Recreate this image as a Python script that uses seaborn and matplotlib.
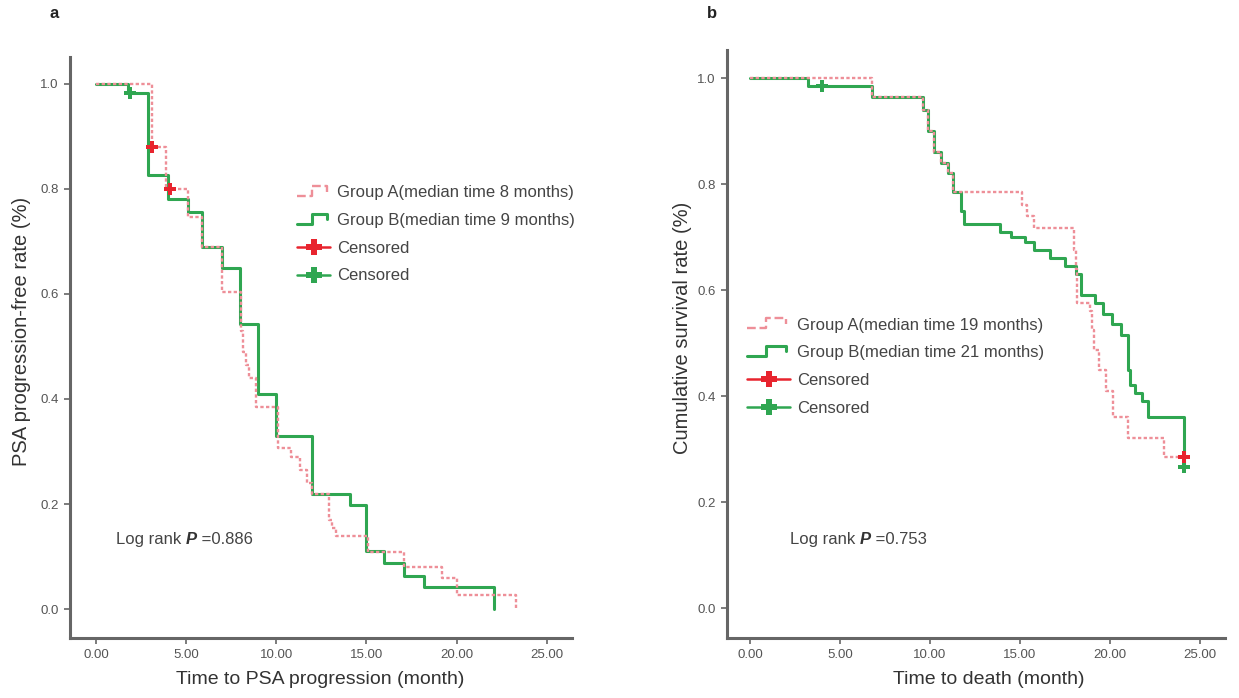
import numpy as np
import pandas as pd
import matplotlib
matplotlib.use("Agg")
import matplotlib.pyplot as plt
from matplotlib.lines import Line2D
from matplotlib.legend_handler import HandlerBase
import seaborn as sns

# ---- Kaplan-Meier step data: panel a (PSA progression) ----
a_time_A = [0.0, 3.1, 3.9, 5.1, 5.9, 7.0, 8.05, 8.15, 8.3, 8.5, 8.9, 10.1, 10.8, 11.3, 11.7, 12.0,
            12.9, 13.1, 13.3, 15.1, 17.1, 19.2, 20.0, 23.3]
a_surv_A = [1.0, 0.88, 0.80, 0.747, 0.69, 0.604, 0.53, 0.49, 0.465, 0.44, 0.385, 0.307, 0.29, 0.265, 0.24, 0.22,
            0.17, 0.155, 0.14, 0.108, 0.08, 0.059, 0.027, 0.0]
a_time_B = [0.0, 1.8, 2.9, 4.0, 5.1, 5.9, 7.0, 8.0, 9.0, 10.0, 12.0, 14.1, 15.0, 16.0, 17.1, 18.2, 22.1]
a_surv_B = [1.0, 0.983, 0.827, 0.78, 0.756, 0.69, 0.65, 0.543, 0.41, 0.33, 0.22, 0.198, 0.11, 0.088, 0.063, 0.042, 0.0]
a_cens_A_t = [3.1, 4.1]
a_cens_A_s = [0.88, 0.80]
a_cens_B_t = [1.9]
a_cens_B_s = [0.983]

# ---- Kaplan-Meier step data: panel b (overall survival) ----
b_time_A = [0.0, 6.8, 9.6, 9.9, 10.2, 10.6, 11.0, 11.3, 15.1, 15.4, 15.8, 18.0, 18.1, 18.2, 18.9, 19.0,
            19.1, 19.4, 19.8, 20.2, 21.0, 23.0, 24.1]
b_surv_A = [1.0, 0.964, 0.94, 0.90, 0.86, 0.84, 0.82, 0.785, 0.76, 0.74, 0.717, 0.675, 0.64, 0.575, 0.56, 0.525,
            0.487, 0.45, 0.41, 0.36, 0.32, 0.285, 0.285]
b_time_B = [0.0, 3.2, 6.8, 9.6, 9.9, 10.2, 10.6, 11.0, 11.3, 11.7, 11.9, 13.9, 14.5, 15.3, 15.8, 16.7, 17.5,
            18.1, 18.4, 19.2, 19.6, 20.1, 20.6, 21.0, 21.1, 21.4, 21.8, 22.1, 24.1]
b_surv_B = [1.0, 0.985, 0.964, 0.94, 0.90, 0.86, 0.84, 0.82, 0.785, 0.75, 0.725, 0.71, 0.70, 0.69, 0.675, 0.66,
            0.645, 0.63, 0.59, 0.575, 0.555, 0.535, 0.515, 0.45, 0.42, 0.405, 0.39, 0.36, 0.266]
b_cens_A_t = [24.1]
b_cens_A_s = [0.285]
b_cens_B_t = [4.0, 24.1]
b_cens_B_s = [0.985, 0.266]

y_ticks = [0.0, 0.2, 0.4, 0.6, 0.8, 1.0]
x_ticks = [0, 5, 10, 15, 20, 25]

labels_a = ["Group A(median time 8 months)", "Group B(median time 9 months)", "Censored", "Censored"]
labels_b = ["Group A(median time 19 months)", "Group B(median time 21 months)", "Censored", "Censored"]
p_text_a = "=0.886"
p_text_b = "=0.753"

RED_LINE = "#ee8f98"
RED_MARK = "#e8242e"
GREEN = "#2fa651"
SPINE = "#666666"
TEXT = "#444444"
RED_DASH = (0, (1.4, 1.0))

sns.set_theme(style="ticks")
plt.rcParams["font.family"] = ["Liberation Sans", "DejaVu Sans"]

fig = plt.figure(figsize=(12.39, 6.98), dpi=100)
W, H = 1239, 698


def px_axes(left, top, right, bottom):
    return fig.add_axes([left / W, 1 - bottom / H, (right - left) / W, (bottom - top) / H])


class StepHandler(HandlerBase):
    def create_artists(self, legend, orig_handle, xdescent, ydescent, width, height, fontsize, trans):
        x0 = -xdescent
        xs = [x0, x0 + 0.45 * width, x0 + 0.45 * width, x0 + 0.9 * width, x0 + 0.9 * width]
        ys = [0.1 * height, 0.1 * height, 0.95 * height, 0.95 * height, 0.5 * height]
        ln = Line2D(xs, ys, color=orig_handle.get_color(), linewidth=orig_handle.get_linewidth(),
                    linestyle=orig_handle.get_linestyle())
        ln.set_transform(trans)
        return [ln]


def draw_panel(ax, tA, sA, tB, sB, cAt, cAs, cBt, cBs, xlim, ylim, xlabel, ylabel,
               labels, leg_anchor, handle_len, ptxt, ppos, xlab_pos, ylab_pos):
    dfA = pd.DataFrame({"t": tA, "s": sA})
    dfB = pd.DataFrame({"t": tB, "s": sB})
    sns.lineplot(data=dfB, x="t", y="s", ax=ax, drawstyle="steps-post", estimator=None, sort=False,
                 color=GREEN, linewidth=2.2, zorder=3)
    sns.lineplot(data=dfA, x="t", y="s", ax=ax, drawstyle="steps-post", estimator=None, sort=False,
                 color=RED_LINE, linewidth=1.7, linestyle=RED_DASH, zorder=4)
    sns.scatterplot(x=cAt, y=cAs, ax=ax, marker="P", color=RED_MARK, s=70, linewidth=0, zorder=6)
    sns.scatterplot(x=cBt, y=cBs, ax=ax, marker="P", color=GREEN, s=70, linewidth=0, zorder=5)

    ax.set_xlim(*xlim)
    ax.set_ylim(*ylim)
    ax.set_xticks(x_ticks)
    ax.set_xticklabels([f"{v:.2f}" for v in x_ticks])
    ax.set_yticks(y_ticks)
    ax.set_yticklabels([f"{v:.1f}" for v in y_ticks])
    ax.tick_params(axis="both", direction="out", length=4, width=1.2, color=SPINE,
                   labelsize=9.5, labelcolor="#555555", pad=4)
    for side in ["top", "right"]:
        ax.spines[side].set_visible(False)
    for side in ["left", "bottom"]:
        ax.spines[side].set_color(SPINE)
        ax.spines[side].set_linewidth(2.2)
    ax.set_xlabel(xlabel, fontsize=14, color="#333333")
    ax.set_ylabel(ylabel, fontsize=14.5, color="#333333")
    ax.xaxis.set_label_coords(*xlab_pos)
    ax.yaxis.set_label_coords(*ylab_pos)
    ax.xaxis.label.set_va("center")
    ax.yaxis.label.set_va("center")
    ax.set_facecolor("white")

    handles = [
        Line2D([], [], color=RED_LINE, linewidth=1.7, linestyle=RED_DASH),
        Line2D([], [], color=GREEN, linewidth=2.2),
        Line2D([], [], color=RED_MARK, linewidth=1.8, marker="P", markersize=11, markeredgewidth=0),
        Line2D([], [], color=GREEN, linewidth=1.8, marker="P", markersize=11, markeredgewidth=0),
    ]
    step = StepHandler()
    ax.legend(handles, labels, loc="upper left", bbox_to_anchor=leg_anchor, frameon=False,
              fontsize=12, handlelength=handle_len, handletextpad=0.42, labelspacing=0.76,
              borderaxespad=0, borderpad=0,
              handler_map={handles[0]: step, handles[1]: step}, labelcolor=TEXT)

    t1 = ax.text(ppos[0], ppos[1], "Log rank ", fontsize=12, color=TEXT, va="baseline")
    t2 = ax.annotate("P", xycoords=t1, xy=(1, 0), va="bottom", fontsize=12,
                     fontweight="bold", fontstyle="italic", color="#333333")
    ax.annotate(" " + ptxt, xycoords=t2, xy=(1, 0), va="bottom", fontsize=12, color=TEXT)


ax_a = px_axes(70, 57, 572, 638)
draw_panel(ax_a, a_time_A, a_surv_A, a_time_B, a_surv_B, a_cens_A_t, a_cens_A_s, a_cens_B_t, a_cens_B_s,
           xlim=(-1.44, 26.4), ylim=(-0.055, 1.051),
           xlabel="Time to PSA progression (month)", ylabel="PSA progression-free rate (%)",
           labels=labels_a, leg_anchor=(0.452, 0.779), handle_len=2.0,
           ptxt=p_text_a, ppos=(1.1, 0.124),
           xlab_pos=(0.498, -0.072), ylab_pos=(-0.096, 0.528))

ax_b = px_axes(727, 50, 1225, 638)
draw_panel(ax_b, b_time_A, b_surv_A, b_time_B, b_surv_B, b_cens_A_t, b_cens_A_s, b_cens_B_t, b_cens_B_s,
           xlim=(-1.28, 26.4), ylim=(-0.0566, 1.053),
           xlabel="Time to death (month)", ylabel="Cumulative survival rate (%)",
           labels=labels_b, leg_anchor=(0.04, 0.545), handle_len=2.6,
           ptxt=p_text_b, ppos=(2.2, 0.121),
           xlab_pos=(0.526, -0.071), ylab_pos=(-0.090, 0.527))

fig.text(50 / W, 1 - 13 / H, "a", fontsize=12, fontweight="bold", color="#222222", ha="left", va="center")
fig.text(707 / W, 1 - 14 / H, "b", fontsize=12, fontweight="bold", color="#222222", ha="left", va="center")

fig.savefig("out.png", dpi=100, facecolor="white")
